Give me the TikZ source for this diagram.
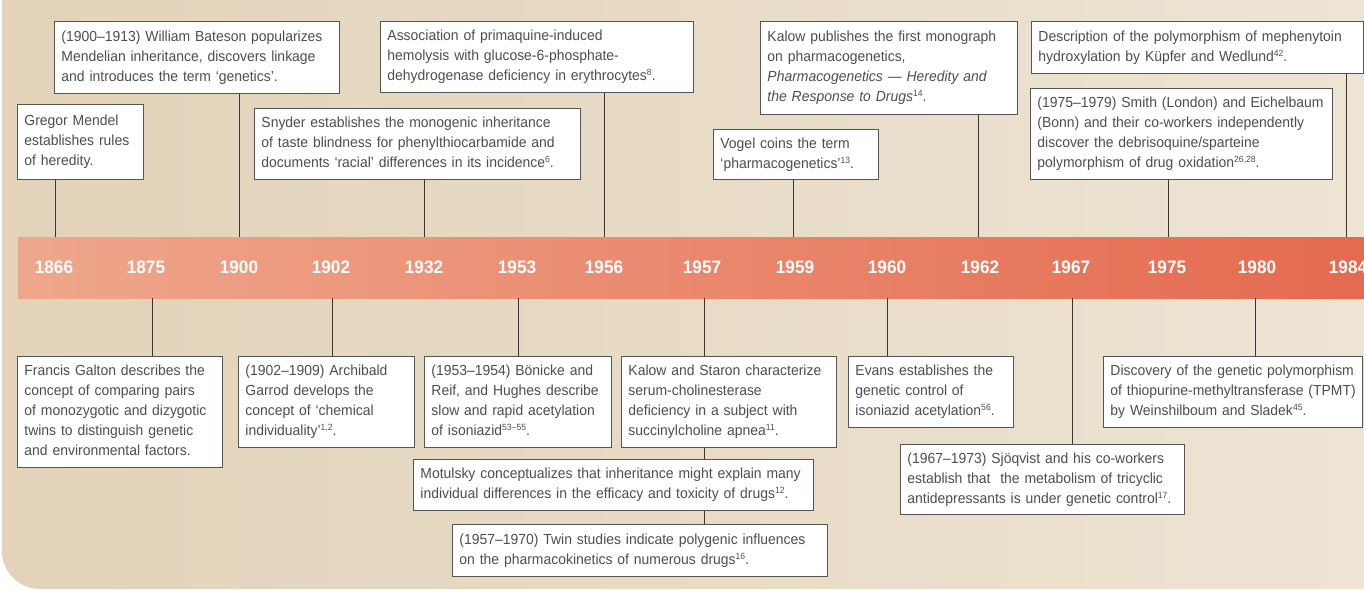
\documentclass[tikz,border=0pt]{standalone}
\usepackage{fontspec}
\setmainfont{Liberation Sans}[FakeStretch=0.955]
\definecolor{bgL}{RGB}{226,211,185}
\definecolor{bgR}{RGB}{237,228,212}
\definecolor{barL}{RGB}{239,167,140}
\definecolor{barR}{RGB}{228,106,80}
\definecolor{boxline}{RGB}{85,85,85}
\definecolor{txtc}{RGB}{78,78,78}
\definecolor{connc}{RGB}{55,55,55}
\newcommand\supr[1]{\raisebox{5pt}{\fontsize{9}{9}\selectfont #1}}
\newcommand\bodyfont{\fontsize{14.6}{20}\selectfont}
\newcommand\evlines[1]{\begin{tabular}{@{}l@{}}#1\end{tabular}}
\begin{document}
\begin{tikzpicture}[x=1pt,y=-1pt,
  evbox/.style={draw=boxline, line width=0.9pt, fill=white, text=txtc,
    align=left, anchor=north west, inner xsep=7pt, inner ysep=0pt,
    font=\bodyfont},
  conline/.style={draw=connc, line width=0.9pt},
  yearlbl/.style={text=white, font=\fontsize{18}{18}\selectfont\bfseries, inner sep=0pt}]
\useasboundingbox (0,0) rectangle (1364,590);
% background
\shade[left color=bgL, right color=bgR]
  (2,0) -- (1364,0) -- (1364,589) -- (40,589)
  .. controls (19,589) and (2,572) .. (2,551) -- cycle;
% bar
\node[anchor=north west, inner sep=0pt, minimum width=1346pt, minimum height=61pt,
  left color=barL, right color=barR] (bar) at (18,237) {};
% tick x positions
\coordinate (x1866) at (55,0);
\coordinate (x1875) at (152,0);
\coordinate (x1900) at (239,0);
\coordinate (x1902) at (332,0);
\coordinate (x1932) at (424,0);
\coordinate (x1953) at (518,0);
\coordinate (x1956) at (604,0);
\coordinate (x1957) at (704,0);
\coordinate (x1959) at (793,0);
\coordinate (x1960) at (887,0);
\coordinate (x1962) at (978,0);
\coordinate (x1967) at (1072,0);
\coordinate (x1975) at (1168,0);
\coordinate (x1980) at (1255,0);
\coordinate (x1984) at (1346,0);
% years
\node[yearlbl] (y1866) at (54,267) {1866};
\node[yearlbl] (y1875) at (146,267) {1875};
\node[yearlbl] (y1900) at (239,267) {1900};
\node[yearlbl] (y1902) at (331,267) {1902};
\node[yearlbl] (y1932) at (424,267) {1932};
\node[yearlbl] (y1953) at (517,267) {1953};
\node[yearlbl] (y1956) at (604,267) {1956};
\node[yearlbl] (y1957) at (702,267) {1957};
\node[yearlbl] (y1959) at (795,267) {1959};
\node[yearlbl] (y1960) at (887,267) {1960};
\node[yearlbl] (y1962) at (980,267) {1962};
\node[yearlbl] (y1967) at (1071,267) {1967};
\node[yearlbl] (y1975) at (1167,267) {1975};
\node[yearlbl] (y1980) at (1257,267) {1980};
\node[yearlbl] (y1984) at (1348,267) {1984};
% upper boxes
\node[evbox, text width=112pt, minimum height=75pt] (mendel) at (17,104)
  {\evlines{Gregor Mendel\\establishes rules\\of heredity.}};
\node[evbox, text width=271pt, minimum height=72pt] (bateson) at (54,21)
  {\evlines{(1900–1913) William Bateson popularizes\\Mendelian inheritance, discovers linkage\\and introduces the term ‘genetics’.}};
\node[evbox, text width=312pt, minimum height=71pt] (snyder) at (254,108)
  {\evlines{Snyder establishes the monogenic inheritance\\of taste blindness for phenylthiocarbamide and\\documents ‘racial’ differences in its incidence\supr{6}.}};
\node[evbox, text width=299pt, minimum height=71pt] (assoc) at (380,21)
  {\evlines{Association of primaquine-induced\\hemolysis with glucose-6-phosphate-\\dehydrogenase deficiency in erythrocytes\supr{8}.}};
\node[evbox, text width=151pt, minimum height=50pt] (vogel) at (713,129)
  {\evlines{Vogel coins the term\\‘pharmacogenetics’\supr{13}.}};
\node[evbox, text width=243pt, minimum height=93pt] (kalow) at (760,21)
  {\evlines{Kalow publishes the first monograph\\on pharmacogenetics,\\\textit{Pharmacogenetics — Heredity and}\\\textit{the Response to Drugs}\supr{14}.}};
\node[evbox, text width=318pt, minimum height=52pt] (descr) at (1031,21)
  {\evlines{Description of the polymorphism of mephenytoin\\hydroxylation by Küpfer and Wedlund\supr{42}.}};
\node[evbox, text width=288pt, minimum height=91pt] (smith) at (1030,88)
  {\evlines{(1975–1979) Smith (London) and Eichelbaum\\(Bonn) and their co-workers independently\\discover the debrisoquine/sparteine\\polymorphism of drug oxidation\supr{26,28}.}};
% lower boxes
\node[evbox, text width=191pt, minimum height=111pt] (galton) at (17,356)
  {\evlines{Francis Galton describes the\\concept of comparing pairs\\of monozygotic and dizygotic\\twins to distinguish genetic\\and environmental factors.}};
\node[evbox, text width=162pt, minimum height=91pt] (garrod) at (238,356)
  {\evlines{(1902–1909) Archibald\\Garrod develops the\\concept of ‘chemical\\individuality’\supr{1,2}.}};
\node[evbox, text width=173pt, minimum height=91pt] (bonicke) at (424,356)
  {\evlines{(1953–1954) Bönicke and\\Reif, and Hughes describe\\slow and rapid acetylation\\of isoniazid\supr{53–55}.}};
\node[evbox, text width=201pt, minimum height=91pt] (kstaron) at (621,356)
  {\evlines{Kalow and Staron characterize\\serum-cholinesterase\\deficiency in a subject with\\succinylcholine apnea\supr{11}.}};
\node[evbox, text width=386pt, minimum height=51pt] (motulsky) at (413,459)
  {\evlines{Motulsky conceptualizes that inheritance might explain many\\individual differences in the efficacy and toxicity of drugs\supr{12}.}};
\node[evbox, text width=361pt, minimum height=52pt] (twin) at (452,524)
  {\evlines{(1957–1970) Twin studies indicate polygenic influences\\on the pharmacokinetics of numerous drugs\supr{16}.}};
\node[evbox, text width=151pt, minimum height=71pt] (evans) at (848,356)
  {\evlines{Evans establishes the\\genetic control of\\isoniazid acetylation\supr{56}.}};
\node[evbox, text width=245pt, minimum height=71pt] (tpmt) at (1103,356)
  {\evlines{Discovery of the genetic polymorphism\\of thiopurine-methyltransferase (TPMT)\\by Weinshilboum and Sladek\supr{45}.}};
\node[evbox, text width=270pt, minimum height=70pt] (sjoq) at (900,444)
  {\evlines{(1967–1973) Sjöqvist and his co-workers\\establish that\ \ the metabolism of tricyclic\\antidepressants is under genetic control\supr{17}.}};
% connectors above
\draw[conline] (mendel.south -| x1866) -- (bar.north -| x1866);
\draw[conline] (bateson.south -| x1900) -- (bar.north -| x1900);
\draw[conline] (snyder.south -| x1932) -- (bar.north -| x1932);
\draw[conline] (assoc.south -| x1956) -- (bar.north -| x1956);
\draw[conline] (vogel.south -| x1959) -- (bar.north -| x1959);
\draw[conline] (kalow.south -| x1962) -- (bar.north -| x1962);
\draw[conline] (smith.south -| x1975) -- (bar.north -| x1975);
\draw[conline] (descr.south -| x1984) -- (bar.north -| x1984);
% connectors below
\draw[conline] (bar.south -| x1875) -- (galton.north -| x1875);
\draw[conline] (bar.south -| x1902) -- (garrod.north -| x1902);
\draw[conline] (bar.south -| x1953) -- (bonicke.north -| x1953);
\draw[conline] (bar.south -| x1957) -- (kstaron.north -| x1957);
\draw[conline] (kstaron.south -| x1957) -- (motulsky.north -| x1957);
\draw[conline] (motulsky.south -| x1957) -- (twin.north -| x1957);
\draw[conline] (bar.south -| x1960) -- (evans.north -| x1960);
\draw[conline] (bar.south -| x1967) -- (sjoq.north -| x1967);
\draw[conline] (bar.south -| x1980) -- (tpmt.north -| x1980);
\end{tikzpicture}
\end{document}
